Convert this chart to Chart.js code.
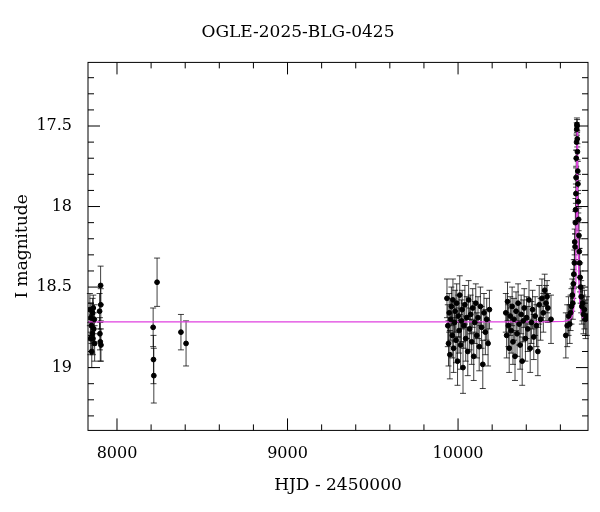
<!DOCTYPE html>
<html>
<head>
<meta charset="utf-8">
<script src="https://cdn.jsdelivr.net/npm/chart.js@4"></script>
<style>
body { margin: 0; background: #fff; }
#wrap { width: 600px; height: 512px; }
</style>
</head>
<body>
<div id="wrap"><canvas id="lc"></canvas></div>
<script>
// photometry: HJD-2450000, I mag, error
const hjd = [
  7841, 7844, 7847, 7850, 7852, 7855, 7857, 7859, 7861, 7864, 7867, 7869,
  7898, 7900, 7902, 7904, 7905, 7906,
  8212, 8214, 8216, 8235, 8375, 8405,
  9935, 9940, 9944, 9948, 9952, 9957, 9961, 9966, 9970, 9974, 9979, 9983, 9988, 9992,
  9997, 10001, 10006, 10010, 10015, 10020, 10024, 10029, 10034, 10040, 10045, 10051,
  10057, 10062, 10068, 10074, 10080, 10086, 10092, 10098, 10104, 10110, 10117, 10124,
  10131, 10138, 10145, 10152, 10160, 10168, 10176, 10184,
  10280, 10285, 10290, 10295, 10300, 10306, 10311, 10317, 10322, 10328, 10334, 10340,
  10346, 10352, 10358, 10364, 10370, 10376, 10382, 10388, 10395, 10402, 10409, 10416,
  10423, 10430, 10437, 10444, 10452, 10460, 10468, 10476, 10484, 10492, 10500, 10508,
  10516, 10522, 10527, 10545,
  10632, 10640, 10648, 10655, 10660, 10665, 10670, 10673, 10676, 10679, 10682, 10684,
  10686, 10688, 10689, 10691, 10692, 10693, 10695, 10696, 10697, 10698, 10699, 10700,
  10702, 10703, 10705, 10707, 10709, 10711, 10713, 10716, 10719, 10722, 10726, 10730,
  10735, 10741, 10748, 10755
];
const mag = [
  18.64, 18.82, 18.69, 18.74, 18.90, 18.79, 18.66, 18.82, 18.63, 18.76, 18.70, 18.85,
  18.65, 18.79, 18.84, 18.49, 18.61, 18.86,
  18.75, 18.95, 19.05, 18.47, 18.78, 18.85,
  18.57, 18.74, 18.85, 18.66, 18.92, 18.70, 18.62, 18.80, 18.58, 18.88, 18.72, 18.65,
  18.83, 18.60, 18.96, 18.68, 18.77, 18.55, 18.86, 18.71, 18.64, 19.00, 18.74, 18.61,
  18.82, 18.69, 18.90, 18.58, 18.76, 18.67, 18.84, 18.63, 18.93, 18.72, 18.60, 18.80,
  18.69, 18.87, 18.62, 18.75, 18.98, 18.66, 18.78, 18.70, 18.85, 18.64,
  18.66, 18.80, 18.59, 18.74, 18.88, 18.68, 18.77, 18.62, 18.84, 18.70, 18.93, 18.65,
  18.79, 18.60, 18.73, 18.86, 18.67, 18.96, 18.71, 18.63, 18.82, 18.69, 18.76, 18.58,
  18.88, 18.72, 18.64, 18.81, 18.68, 18.74, 18.90, 18.61, 18.70, 18.57, 18.66, 18.52,
  18.60, 18.56, 18.63, 18.70,
  18.80, 18.74, 18.68, 18.73, 18.66, 18.62, 18.55, 18.60, 18.48, 18.42, 18.35, 18.22,
  18.25, 18.10, 18.02, 17.92, 17.82, 17.70, 17.60, 17.52, 17.49, 17.50, 17.58, 17.66,
  17.78, 17.86, 17.97, 18.08, 18.18, 18.28, 18.35, 18.44, 18.50, 18.56, 18.62, 18.60,
  18.67, 18.64, 18.70, 18.68
];
const magErr = [
  0.10, 0.10, 0.09, 0.11, 0.10, 0.12, 0.09, 0.10, 0.08, 0.10, 0.09, 0.11,
  0.11, 0.10, 0.12, 0.12, 0.10, 0.10,
  0.12, 0.15, 0.17, 0.15, 0.11, 0.14,
  0.12, 0.13, 0.14, 0.12, 0.15, 0.13, 0.12, 0.14, 0.13, 0.15, 0.12, 0.13, 0.14, 0.12,
  0.15, 0.13, 0.14, 0.12, 0.15, 0.13, 0.12, 0.16, 0.14, 0.12, 0.14, 0.13, 0.15, 0.12,
  0.13, 0.12, 0.14, 0.12, 0.15, 0.13, 0.12, 0.14, 0.13, 0.15, 0.12, 0.13, 0.15, 0.12,
  0.14, 0.13, 0.14, 0.12,
  0.12, 0.14, 0.12, 0.13, 0.15, 0.12, 0.14, 0.12, 0.14, 0.13, 0.15, 0.12, 0.14, 0.12,
  0.13, 0.15, 0.12, 0.15, 0.13, 0.12, 0.14, 0.13, 0.14, 0.12, 0.15, 0.13, 0.12, 0.14,
  0.12, 0.13, 0.15, 0.12, 0.13, 0.12, 0.12, 0.10, 0.11, 0.10, 0.09, 0.15,
  0.14, 0.13, 0.12, 0.12, 0.11, 0.11, 0.10, 0.10, 0.09, 0.09, 0.08, 0.08,
  0.08, 0.07, 0.07, 0.06, 0.06, 0.05, 0.05, 0.04, 0.04, 0.04, 0.05, 0.05,
  0.06, 0.06, 0.07, 0.07, 0.08, 0.08, 0.09, 0.09, 0.10, 0.10, 0.11, 0.11,
  0.12, 0.12, 0.12, 0.12
];
// model curve
const modelT = [7830, 10500, 10620, 10650, 10665, 10675, 10682, 10687, 10691, 10694,
  10696, 10698, 10700, 10702, 10705, 10709, 10714, 10721, 10731, 10745, 10762];
const modelMag = [18.716, 18.716, 18.713, 18.705, 18.69, 18.66, 18.60, 18.48, 18.28, 18.00,
  17.76, 17.52, 17.76, 18.00, 18.28, 18.48, 18.60, 18.66, 18.69, 18.705, 18.71];

const xTicksMajor = [8000, 9000, 10000];
const yTicksMajor = [17.5, 18, 18.5, 19];
const serif = '"DejaVu Serif", "Liberation Serif", serif';

const points = hjd.map((t, i) => ({ x: t, y: mag[i], e: magErr[i] }));
const model = modelT.map((t, i) => ({ x: t, y: modelMag[i] }));

const errorBars = {
  id: 'errorBars',
  beforeDatasetsDraw(chart) {
    const ctx = chart.ctx, xs = chart.scales.x, ys = chart.scales.y;
    ctx.save();
    ctx.strokeStyle = 'rgba(0,0,0,0.75)';
    ctx.lineWidth = 1;
    points.forEach(p => {
      const px = xs.getPixelForValue(p.x);
      const y1 = ys.getPixelForValue(p.y - p.e), y2 = ys.getPixelForValue(p.y + p.e);
      ctx.beginPath();
      ctx.moveTo(px, y1); ctx.lineTo(px, y2);
      ctx.moveTo(px - 3, y1); ctx.lineTo(px + 3, y1);
      ctx.moveTo(px - 3, y2); ctx.lineTo(px + 3, y2);
      ctx.stroke();
    });
    ctx.restore();
  }
};

// frame and inward ticks on all four sides
const frame = {
  id: 'frame',
  afterDraw(chart) {
    const ctx = chart.ctx, a = chart.chartArea, xs = chart.scales.x, ys = chart.scales.y;
    ctx.save();
    ctx.strokeStyle = '#000';
    ctx.lineWidth = 1;
    ctx.strokeRect(a.left, a.top, a.right - a.left, a.bottom - a.top);
    ctx.beginPath();
    for (let v = 7800; v <= 10800; v += 200) {
      const px = xs.getPixelForValue(v);
      if (px < a.left || px > a.right) continue;
      const len = v % 1000 === 0 ? 12 : 6;
      ctx.moveTo(px, a.bottom); ctx.lineTo(px, a.bottom - len);
      ctx.moveTo(px, a.top); ctx.lineTo(px, a.top + len);
    }
    for (let k = 172; k <= 193; k++) {
      const py = ys.getPixelForValue(k / 10);
      const len = k % 5 === 0 ? 12 : 6;
      ctx.moveTo(a.left, py); ctx.lineTo(a.left + len, py);
      ctx.moveTo(a.right, py); ctx.lineTo(a.right - len, py);
    }
    ctx.stroke();
    ctx.restore();
  }
};

new Chart(document.getElementById('lc'), {
  type: 'scatter',
  data: {
    datasets: [
      { data: model, showLine: true, borderColor: '#e040e0', borderWidth: 1.3,
        pointRadius: 0, order: 2 },
      { data: points, backgroundColor: '#000', borderColor: '#000',
        pointRadius: 2.4, order: 1 }
    ]
  },
  options: {
    responsive: true,
    maintainAspectRatio: false,
    animation: false,
    layout: { padding: { top: 8, right: 12, left: 8, bottom: 12 } },
    plugins: {
      legend: { display: false },
      tooltip: { enabled: false },
      title: { display: true, text: 'OGLE-2025-BLG-0425', color: '#000',
        font: { family: serif, size: 17, weight: 'normal' }, padding: { top: 14, bottom: 20 } }
    },
    scales: {
      x: {
        type: 'linear', min: 7830, max: 10762,
        afterBuildTicks: s => { s.ticks = xTicksMajor.map(v => ({ value: v })); },
        grid: { display: false },
        border: { display: false },
        ticks: { color: '#000', font: { family: serif, size: 16 }, padding: 6,
          callback: v => String(v) },
        title: { display: true, text: 'HJD - 2450000', color: '#000',
          font: { family: serif, size: 17 }, padding: { top: 6 } }
      },
      y: {
        reverse: true, min: 17.105, max: 19.39,
        afterBuildTicks: s => { s.ticks = yTicksMajor.map(v => ({ value: v })); },
        afterFit: s => { s.width = 80; },
        grid: { display: false },
        border: { display: false },
        ticks: { color: '#000', font: { family: serif, size: 16 }, padding: 8,
          callback: v => String(v) },
        title: { display: true, text: 'I magnitude', color: '#000',
          font: { family: serif, size: 17 } }
      }
    }
  },
  plugins: [errorBars, frame]
});
</script>
</body>
</html>
